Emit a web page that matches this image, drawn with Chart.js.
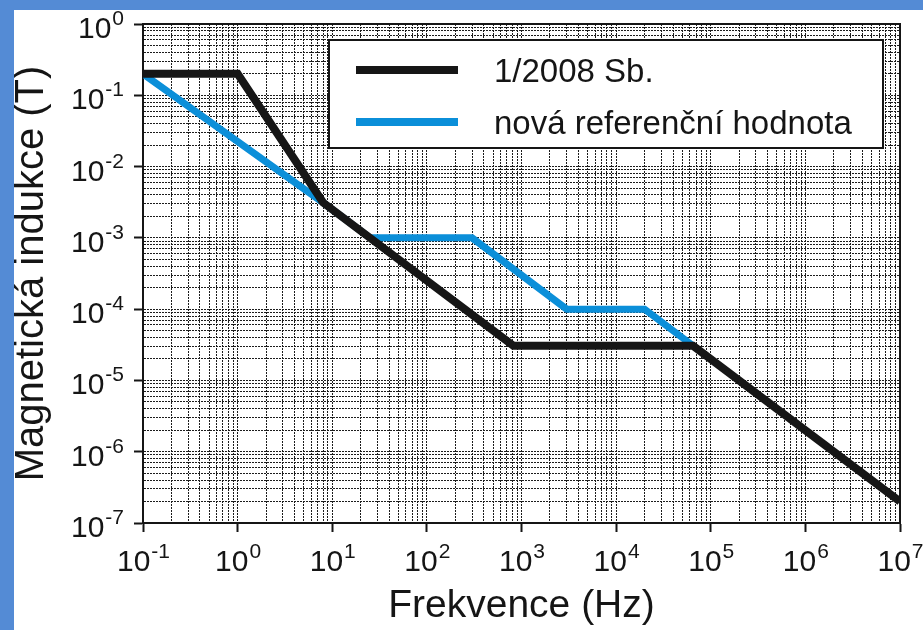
<!DOCTYPE html>
<html>
<head>
<meta charset="utf-8">
<script src="https://cdn.jsdelivr.net/npm/chart.js@4.4.1/dist/chart.umd.min.js"></script>
<style>
  html, body { margin: 0; padding: 0; }
  body { width: 923px; height: 630px; background: #548bd5; position: relative; overflow: hidden; }
  #wrap { position: absolute; left: 14px; top: 10px; width: 909px; height: 620px; background: #fff; }
</style>
</head>
<body>
<div id="wrap"><canvas id="myChart" width="909" height="620"></canvas></div>
<script>
// values
const seriesNames = ['1/2008 Sb.', 'nová referenční hodnota'];
const oldFreq = [0.1, 1, 8, 820, 65000, 1e7];
const oldField = [0.2, 0.2, 0.003125, 3.07e-5, 3.07e-5, 2e-7];
const newFreq = [0.1, 8, 25, 300, 3000, 20000, 65000];
const newField = [0.2, 0.003125, 0.001, 0.001, 1e-4, 1e-4, 3.07e-5];
const xExponents = [-1, 0, 1, 2, 3, 4, 5, 6, 7];
const yExponents = [0, -1, -2, -3, -4, -5, -6, -7];

const FONT = '"Liberation Sans", Arial, sans-serif';
const ink = '#151515';

function toPoints(xs, ys) {
    return xs.map((x, i) => ({ x: x, y: ys[i] }));
}

// log ticks 1..9 per decade so every minor grid line is drawn
function decadeTicks(scale) {
    const lo = Math.round(Math.log10(scale.min));
    const hi = Math.round(Math.log10(scale.max));
    const t = [];
    for (let e = lo; e < hi; e++) {
        for (let m = 1; m <= 9; m++) t.push({ value: m * Math.pow(10, e) });
    }
    t.push({ value: Math.pow(10, hi) });
    scale.ticks = t;
}

function isMajor(v) {
    const l = Math.log10(v);
    return Math.abs(l - Math.round(l)) < 1e-9;
}

function drawPower(ctx, e, x, y, align) {
    ctx.font = '30px ' + FONT;
    const w1 = ctx.measureText('10').width;
    ctx.font = '21px ' + FONT;
    const w2 = ctx.measureText(String(e)).width;
    const left = align === 'center' ? x - (w1 + w2) / 2 : x - (w1 + w2);
    ctx.textAlign = 'left';
    ctx.font = '30px ' + FONT;
    ctx.fillText('10', left, y);
    ctx.font = '21px ' + FONT;
    ctx.fillText(String(e), left + w1 + 1, y - 13);
}

const axisLabels = {
    id: 'axisLabels',
    beforeDatasetsDraw(chart) {
        // frame on top / right
        const { ctx, chartArea: a } = chart;
        ctx.save();
        ctx.strokeStyle = ink;
        ctx.lineWidth = 2;
        ctx.strokeRect(a.left, a.top, a.right - a.left, a.bottom - a.top);
        ctx.restore();
    },
    afterDatasetsDraw(chart) {
        const { ctx, chartArea: a } = chart;
        const ds = chart.data.datasets;
        // legend box
        const bx = a.left + 186, by = a.top + 16, bw = a.right - 17 - bx, bh = 108;
        ctx.save();
        ctx.fillStyle = '#fff';
        ctx.fillRect(bx, by, bw, bh);
        ctx.strokeStyle = ink;
        ctx.lineWidth = 2;
        ctx.strokeRect(bx, by, bw, bh);
        const rows = [by + 30, by + 82];
        ds.forEach((d, i) => {
            ctx.strokeStyle = d.borderColor;
            ctx.lineWidth = 8;
            ctx.beginPath();
            ctx.moveTo(bx + 27, rows[i]);
            ctx.lineTo(bx + 129, rows[i]);
            ctx.stroke();
            ctx.fillStyle = ink;
            ctx.font = '33px ' + FONT;
            ctx.textAlign = 'left';
            ctx.textBaseline = 'alphabetic';
            ctx.fillText(d.label, bx + 165, rows[i] + 12);
        });
        ctx.restore();
    },
    afterDraw(chart) {
        const { ctx, chartArea: a, scales } = chart;
        ctx.save();
        ctx.fillStyle = ink;
        ctx.textBaseline = 'alphabetic';
        xExponents.forEach(e => {
            drawPower(ctx, e, scales.x.getPixelForValue(Math.pow(10, e)), a.bottom + 48, 'center');
        });
        yExponents.forEach(e => {
            drawPower(ctx, e, a.left - 20, scales.y.getPixelForValue(Math.pow(10, e)) + 14, 'right');
        });
        ctx.restore();
    }
};

const gridOpts = {
    color: '#1c1c1c',
    lineWidth: 1,
    tickLength: 9,
    tickWidth: 2,
    tickBorderDash: [],
    tickColor: c => (c.tick && isMajor(c.tick.value)) ? ink : 'rgba(0,0,0,0)'
};

const ctx = document.getElementById('myChart').getContext('2d');
const myChart = new Chart(ctx, {
    type: 'line',
    data: {
        datasets: [{
            label: seriesNames[0],
            data: toPoints(oldFreq, oldField),
            borderColor: '#161616',
            borderWidth: 8,
            borderJoinStyle: 'miter',
            pointRadius: 0,
            tension: 0
        }, {
            label: seriesNames[1],
            data: toPoints(newFreq, newField),
            borderColor: '#0b8fd9',
            borderWidth: 7,
            borderJoinStyle: 'miter',
            pointRadius: 0,
            tension: 0
        }]
    },
    options: {
        responsive: false,
        animation: false,
        layout: { padding: { left: 0, top: 14, right: 23, bottom: 0 } },
        plugins: { legend: { display: false }, tooltip: { enabled: false } },
        scales: {
            x: {
                type: 'logarithmic',
                position: 'bottom',
                min: Math.pow(10, xExponents[0]),
                max: Math.pow(10, xExponents[xExponents.length - 1]),
                afterBuildTicks: decadeTicks,
                afterFit: s => { s.height = 107; },
                ticks: { display: false },
                grid: gridOpts,
                border: { display: true, color: ink, width: 2, dash: [2, 1] },
                title: {
                    display: true, text: 'Frekvence (Hz)', color: ink,
                    font: { family: FONT, size: 39 }, padding: 0
                }
            },
            y: {
                type: 'logarithmic',
                position: 'left',
                min: Math.pow(10, yExponents[yExponents.length - 1]),
                max: Math.pow(10, yExponents[0]),
                afterBuildTicks: decadeTicks,
                afterFit: s => { s.width = 129; },
                ticks: { display: false },
                grid: gridOpts,
                border: { display: true, color: ink, width: 2, dash: [2, 1] },
                title: {
                    display: true, text: 'Magnetická indukce (T)', color: ink,
                    font: { family: FONT, size: 40, lineHeight: 0.9 }, padding: 0
                }
            }
        }
    },
    plugins: [axisLabels]
});
</script>
</body>
</html>
